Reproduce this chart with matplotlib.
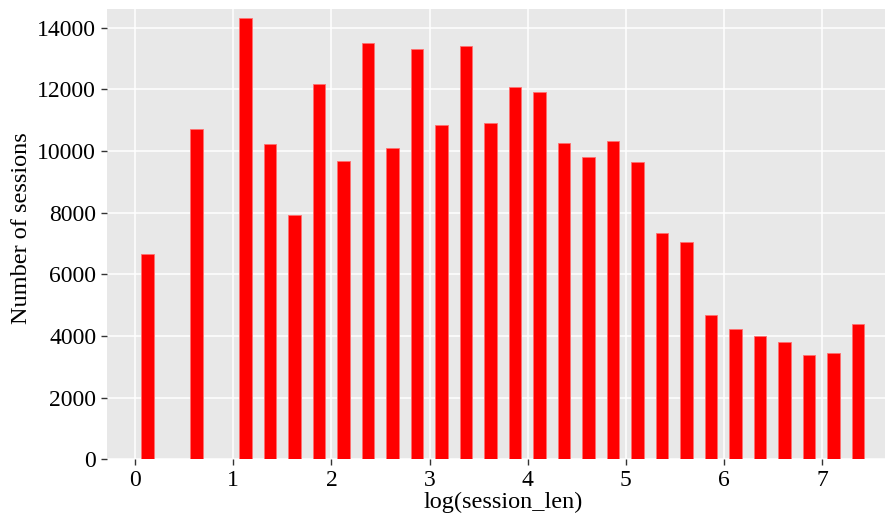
import numpy as np
import matplotlib.pyplot as plt

# histogram of log(session_len), 30 bins (two empty ones)
bin_lo = 0.0
bin_hi = 7.49
counts = [6660, 0, 10700, 0, 14310, 10230, 7920, 12170, 9665, 13500,
          10090, 13320, 10830, 13400, 10900, 12065, 11915, 10250, 9815, 10315,
          9645, 7330, 7040, 4670, 4230, 4000, 3805, 3395, 3440, 4390]
y_ticks = [0, 2000, 4000, 6000, 8000, 10000, 12000, 14000]
x_ticks = [0, 1, 2, 3, 4, 5, 6, 7]

plt.style.use('ggplot')
plt.rcParams['font.family'] = ['Liberation Serif', 'DejaVu Serif']

edges = np.linspace(bin_lo, bin_hi, len(counts) + 1)
centers = (edges[:-1] + edges[1:]) / 2
w = edges[1] - edges[0]

fig = plt.figure(figsize=(8.86, 5.22), dpi=100)
ax = fig.add_axes([0.1204, 0.1201, 0.8784, 0.8626])
ax.set_facecolor('#E8E8E8')
ax.bar(centers, counts, width=w * 0.5, color='#FF0000',
       edgecolor='#FF7070', linewidth=0.6, zorder=3)

ax.set_xlim(-0.29, 7.64)
ax.set_ylim(0, 14600)
ax.set_xticks(x_ticks)
ax.set_yticks(y_ticks)
ax.grid(True, color='white', linewidth=1.1, zorder=0)
ax.tick_params(axis='both', labelsize=17, colors='#333333', labelcolor='black',
               length=4, width=1)
ax.set_xlabel('log(session_len)', fontsize=17.5, color='black', labelpad=1)
ax.set_ylabel('Number of sessions', fontsize=17.5, color='black', labelpad=4)
ax.xaxis.label.set_x(0.51)
ax.yaxis.label.set_y(0.513)
for s in ax.spines.values():
    s.set_visible(False)

plt.savefig('out.png', dpi=100)
